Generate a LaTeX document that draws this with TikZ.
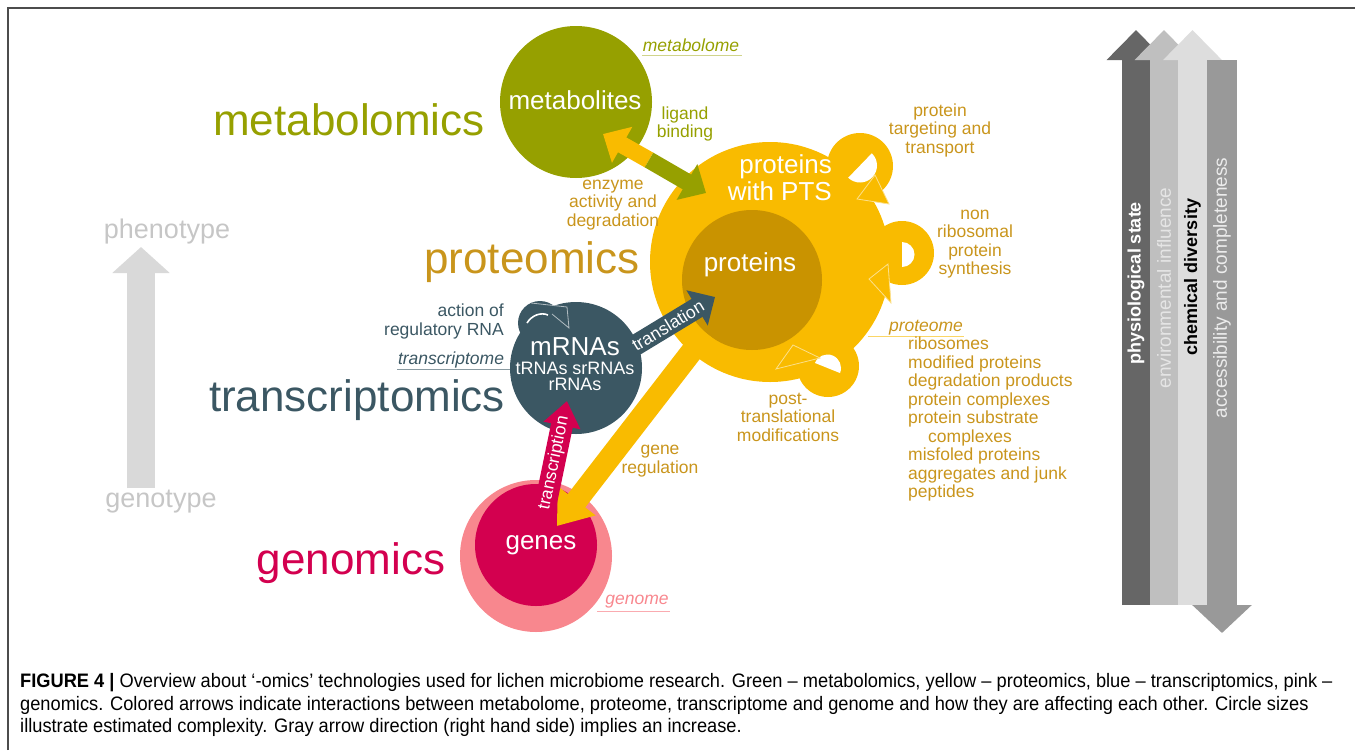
\documentclass[tikz,border=0pt]{standalone}
\usepackage{fontspec}
\setmainfont{Liberation Sans}
\newfontfamily\capfont[FakeStretch=0.936]{Liberation Sans}
\usetikzlibrary{arrows.meta,calc}
\definecolor{olv}{HTML}{96A000}
\definecolor{ylw}{HTML}{F9BB00}
\definecolor{gold}{HTML}{C99300}
\definecolor{goldtxt}{HTML}{C9951C}
\definecolor{slate}{HTML}{3B5763}
\definecolor{crim}{HTML}{D3004F}
\definecolor{pinkc}{HTML}{F8878E}
\definecolor{lgray}{HTML}{D9D9D9}
\definecolor{gtxt}{HTML}{C6C6C6}
\definecolor{gA}{HTML}{666666}
\definecolor{gB}{HTML}{BFBFBF}
\definecolor{gC}{HTML}{DDDDDD}
\definecolor{gD}{HTML}{999999}
\begin{document}
\begin{tikzpicture}[x=1pt,y=-1pt,
  big/.style={font=\fontsize{44}{48}\selectfont, inner sep=0pt},
  inlbl/.style={text=white, font=\fontsize{26}{27}\selectfont, align=center, inner sep=0pt},
  small/.style={font=\fontsize{17.5}{18.5}\selectfont, align=center, inner sep=0pt},
  ital/.style={font=\fontsize{17.5}{18.5}\selectfont\itshape, inner sep=0pt},
  blob/.style={circle, inner sep=0pt, draw=none},
  fat/.style args={#1/#2/#3}{line width=#1, -{Triangle[width=#2,length=#3]}},
  onarrow/.style={sloped, text=white, font=\fontsize{17.5}{17.5}\selectfont, inner sep=0pt},
  vlbl/.style={rotate=90, font=\fontsize{19}{19}\selectfont, inner sep=0pt},
  capline/.style={anchor=west, font=\capfont\fontsize{19.5}{22}\selectfont, inner sep=0pt},
  headline/.style={fill=ylw, draw=white!55!ylw, line width=0.8pt},
  ]
\useasboundingbox (0,0) rectangle (1355,750);
% frame
\draw[gray!60!black, line width=2pt] (8,750) -- (8,8) -- (1355,8);

% ---- proteome self-loop rings (under the big circle)
\fill[ylw] (860,166) circle (33pt);
\fill[ylw] (902,253) circle (32pt);
\fill[ylw] (828,366) circle (31pt);

% ---- circles
\node[blob, fill=olv, minimum size=152pt] (met) at (576,102) {};
\node[blob, fill=ylw, minimum size=240pt] (prot) at (770,262) {};
\node[blob, fill=gold, minimum size=140pt] (protin) at (752,280) {};
\fill[slate] (540,323) circle (22pt);
\node[blob, fill=slate, minimum size=132pt] (rna) at (576,368) {};
\node[blob, fill=pinkc, minimum size=152pt] (genome) at (536,556) {};
\node[blob, fill=crim, minimum size=122pt] (genes) at (536,545) {};

% crescent holes of the loops (angles measured with y downwards)
\fill[white] (860,165.5) ++(46:17pt) arc[start angle=46, end angle=-134, radius=17pt] -- cycle;
\fill[white] (902,254.5) ++(-90:12.5pt) arc[start angle=-90, end angle=90, radius=12.5pt] -- cycle;
\fill[white] (827.5,368) ++(-22:13.5pt) arc[start angle=-22, end angle=158, radius=13.5pt] -- cycle;

% loop arrowheads (outlined)
\filldraw[headline] (875,175) -- (889,204) -- (857,199) -- cycle;
\filldraw[headline] (888,264) -- (891,303) -- (869,279) -- cycle;
\filldraw[headline] (820,358) -- (776,369) -- (793,345) -- cycle;

% ---- arrows
\coordinate (mid) at (649,160);
\coordinate (tipM) at (603,134);
\coordinate (tipP) at (706,193);
\draw[ylw, fat=17pt/40pt/22pt] (mid) -- (tipM);
\draw[olv, fat=17pt/40pt/22pt] (mid) -- (tipP);

\coordinate (trS) at (621,354);
\coordinate (trE) at (715,297);
\draw[slate, fat=21pt/40pt/21pt] (trS) -- node[onarrow, pos=0.5] {translation} (trE);

\coordinate (gS) at (706,333);
\coordinate (gE) at (557,526);
\draw[ylw, fat=22pt/46pt/32pt] (gS) -- (gE);

\coordinate (tcS) at (544,512);
\coordinate (tcE) at (567,401);
\draw[crim, fat=22pt/36pt/25pt] (tcS) -- node[onarrow, pos=0.44] {transcription} (tcE);

% regulatory RNA loop (outlined)
\draw[white, line width=1.6pt] (527,323) .. controls (532,315) and (541,312) .. (548,315);
\draw[white!60!slate, line width=0.8pt] (531,303) -- (567,307) -- (569,328) -- (552,314);

% ---- big labels
\node[big, text=olv] (tmet) at (349,120) {metabolomics};
\node[big, text=goldtxt] (tprot) at (532,262) {proteomics};
\node[big, text=slate] (ttr) at (357,400) {transcriptomics};
\node[big, text=crim] (tgen) at (351,563) {genomics};

% ---- circle labels
\node[inlbl] (lmet) at (575,100) {metabolites};
\node[inlbl, align=right, anchor=east] (lpts) at (832,178) {proteins\\with PTS};
\node[inlbl] (lprot) at (750,265) {proteins};
\node[inlbl] (lrna) at (575,347) {mRNAs};
\node[small, text=white, font=\fontsize{18}{16}\selectfont] (lrna2) at (575,376) {tRNAs srRNAs\\rRNAs};
\node[inlbl] (lgen) at (541,545) {genes};

% ---- italic omes
\node[ital, text=olv] (metome) at (691,45) {metabolome};
\draw[olv!45, line width=0.8pt] (642,55) -- (742,55);
\node[ital, text=goldtxt] (protome) at (926,328) {proteome};
\draw[ylw!60, line width=0.8pt] (868,336) -- (964,336);
\node[ital, text=slate] (trome) at (451,360) {transcriptome};
\draw[slate!60, line width=0.8pt] (397,369) -- (510,369);
\node[ital, text=pinkc] (gome) at (637,602) {genome};
\draw[pinkc!70, line width=0.8pt] (597,611) -- (670,611);

% ---- small labels
\node[small, text=olv] (lig) at (685,124) {ligand\\binding};
\node[small, text=goldtxt] (enz) at (613,205) {enzyme\\activity and\\degradation};
\node[small, text=goldtxt] (ptt) at (940,130) {protein\\targeting and\\transport};
\node[small, text=goldtxt] (nrp) at (975,244) {non\\ribosomal\\protein\\synthesis};
\node[small, text=slate, align=right, anchor=north east] (areg) at (504,304) {action of\\regulatory RNA};
\node[small, text=goldtxt] (greg) at (660,461) {gene\\regulation};
\node[small, text=goldtxt] (ptm) at (788,417) {post-\\translational\\modifications};
\node[small, text=goldtxt, align=left, anchor=north west] (plist) at (908,337)
  {ribosomes\\modified proteins\\degradation products\\protein complexes\\protein substrate\\\hspace*{20pt}complexes\\misfoled proteins\\aggregates and junk\\peptides};

% ---- phenotype arrow
\node[font=\fontsize{27}{27}\selectfont, text=gtxt] (phe) at (167,232) {phenotype};
\node[font=\fontsize{27}{27}\selectfont, text=gtxt] (geno) at (161,502) {genotype};
\coordinate (pS) at (141,488);
\coordinate (pE) at (141,247);
\draw[lgray, fat=28pt/56pt/26pt] (pS) -- (pE);

% ---- right gray arrows
\coordinate (a1S) at (1136,605); \coordinate (a1E) at (1136,30);
\coordinate (a2S) at (1164,605); \coordinate (a2E) at (1164,30);
\coordinate (a3S) at (1192.5,605); \coordinate (a3E) at (1192.5,30);
\coordinate (a4S) at (1222,60); \coordinate (a4E) at (1222,633);
\draw[gA, fat=28pt/57pt/30pt] (a1S) -- (a1E);
\draw[gB, fat=28pt/57pt/30pt] (a2S) -- (a2E);
\draw[gC, fat=29pt/57pt/30pt] (a3S) -- (a3E);
\draw[gD, fat=30pt/58pt/28pt] (a4S) -- (a4E);
\node[vlbl, text=white, font=\bfseries\fontsize{18}{18}\selectfont] (v1) at (1136,283) {physiological state};
\node[vlbl, text=gray!20] (v2) at (1164,288) {environmental influence};
\node[vlbl, text=black, font=\bfseries\fontsize{18}{18}\selectfont] (v3) at (1192.5,277) {chemical diversity};
\node[vlbl, text=gray!15] (v4) at (1222,288) {accessibility and completeness};

% ---- caption
\node[capline] (c1) at (20,683) {\textbf{FIGURE 4 |} Overview about ‘-omics’ technologies used for lichen microbiome research. Green – metabolomics, yellow – proteomics, blue – transcriptomics, pink –};
\node[capline] (c2) at (20,705) {genomics. Colored arrows indicate interactions between metabolome, proteome, transcriptome and genome and how they are affecting each other. Circle sizes};
\node[capline] (c3) at (20,727) {illustrate estimated complexity. Gray arrow direction (right hand side) implies an increase.};
\end{tikzpicture}
\end{document}
